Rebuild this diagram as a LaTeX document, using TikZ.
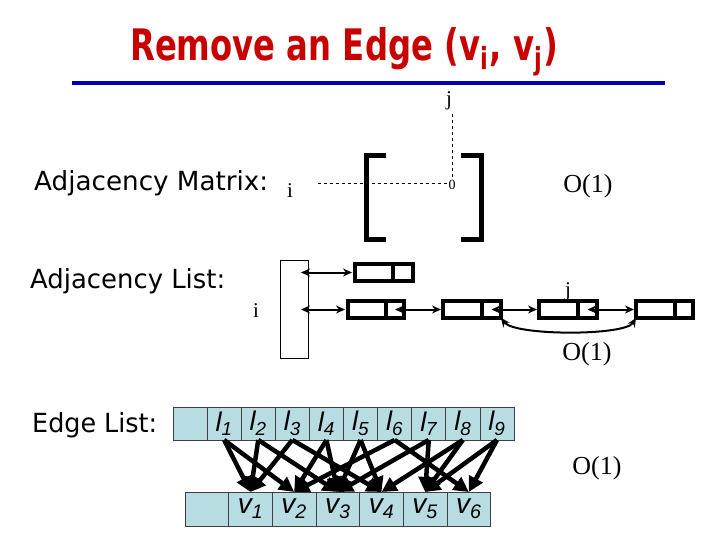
\documentclass[tikz,border=0pt]{standalone}
\usepackage{fontspec}
\setmainfont{Liberation Serif}
\newfontfamily\comic{DejaVu Sans}
\newfontfamily\arialf{Liberation Sans}
\usetikzlibrary{arrows.meta}
\definecolor{titlered}{RGB}{200,0,0}
\definecolor{lineblue}{RGB}{0,0,180}
\definecolor{cellfill}{RGB}{183,221,226}
\tikzset{
  lbl/.style={inner sep=0, anchor=base west, font=\comic},
  serif/.style={inner sep=0, font=\fontsize{21}{21}\selectfont},
  bigo/.style={inner sep=0, font=\fontsize{26}{26}\selectfont},
  brk/.style={line width=5pt, line cap=butt, line join=miter},
  lcell/.style={draw, line width=3.2pt, minimum height=17pt, inner sep=0, outer sep=0, anchor=west},
  larrow/.style={line width=2pt, {Stealth[length=9pt,width=8pt]}-{Stealth[length=9pt,width=8pt]}},
  ecell/.style={draw=black!75, fill=cellfill, line width=0.8pt, minimum width=34.1pt, minimum height=33pt, inner sep=0, outer sep=0, anchor=north west, font=\arialf\itshape\fontsize{27}{27}\selectfont},
  vcell/.style={draw=black!75, fill=cellfill, line width=0.8pt, minimum width=43.67pt, minimum height=34pt, inner sep=0, outer sep=0, anchor=north west, font=\arialf\itshape\fontsize{28}{28}\selectfont},
  earrow/.style={line width=4.5pt, -{Triangle[length=15pt,width=15pt]}}
}
\begin{document}
\begin{tikzpicture}[x=1pt,y=-1pt]
\useasboundingbox[fill=white] (0,0) rectangle (720,540);
% title
\node[inner sep=0, anchor=base west, text=titlered] (title) at (130,61)
  {\resizebox{428pt}{33pt}{\comic\bfseries Remove an Edge (v\textsubscript{i}, v\textsubscript{j})}};
\draw[lineblue, line width=3.5pt] (72,83) -- (665,83);
% left labels
\node[lbl] (am) at (34,191) {\resizebox{234pt}{20pt}{Adjacency Matrix:}};
\node[lbl] (al) at (30,288) {\resizebox{195pt}{20pt}{Adjacency List:}};
\node[lbl] (el) at (32,432) {\resizebox{125pt}{20pt}{Edge List:}};
% adjacency matrix
\node[serif, anchor=base] (jm) at (449,106) {j};
\node[serif, anchor=base] (im) at (290,197) {i};
\node[inner sep=1pt, font=\fontsize{14}{14}\selectfont] (zero) at (452,185) {0};
\coordinate (hs) at (318,183);
\draw[dashed, line width=0.7pt] (hs) -- (zero.west |- hs);
\draw[dashed, line width=0.7pt] (jm.south -| zero) ++(0,3) -- (zero.north);
\draw[brk] (386,156) -- (366,156) -- (366,239) -- (386,239);
\draw[brk] (461,156) -- (481,156) -- (481,239) -- (461,239);
\node[bigo] (o1) at (588,186) {O(1)};
% adjacency list
\node[draw, line width=1pt, minimum width=28pt, minimum height=98pt, inner sep=0, anchor=north west] (arr) at (280,260) {};
\node[serif] (il) at (256,311) {i};
\node[serif] (jl) at (568,292) {j};
\node[lcell, minimum width=38pt] (b1a) at (355,272.5) {};
\node[lcell, minimum width=20pt] (b1b) at (b1a.east) {};
\node[lcell, minimum width=38pt] (b2a) at (348,309.5) {};
\node[lcell, minimum width=18pt] (b2b) at (b2a.east) {};
\node[lcell, minimum width=39pt] (b3a) at (443,309.5) {};
\node[lcell, minimum width=19pt] (b3b) at (b3a.east) {};
\node[lcell, minimum width=39pt] (b4a) at (539,309.5) {};
\node[lcell, minimum width=19pt] (b4b) at (b4a.east) {};
\node[lcell, minimum width=39pt] (b5a) at (636,309.5) {};
\node[lcell, minimum width=18pt] (b5b) at (b5a.east) {};
\coordinate (p1) at (301,272.5);
\coordinate (p2) at (301,309.5);
\draw[larrow] (p1) -- ([xshift=-3pt]b1a.west);
\draw[larrow] (p2) -- ([xshift=-3pt]b2a.west);
\draw[larrow] (b2b.center) -- ([xshift=-2pt]b3a.west);
\draw[larrow] (b3b.center) -- ([xshift=-2pt]b4a.west);
\draw[larrow] (b4b.center) -- ([xshift=-2pt]b5a.west);
\draw[larrow] (b3b.south east) .. controls (515,336) and (625,336) .. (b5a.south west);
\node[bigo] (o2) at (587,354) {O(1)};
% edge list
\node[ecell] (e0) at (173,407) {};
\foreach \k [remember=\k as \p (initially 0)] in {1,...,9}
  \node[ecell] (e\k) at (e\p.north east) {l\textsubscript{\k}};
\node[vcell] (v0) at (185,492) {};
\foreach \k [remember=\k as \p (initially 0)] in {1,...,6}
  \node[vcell] (v\k) at (v\p.north east) {v\textsubscript{\k}};
\foreach \a/\b in {1/1,1/2,2/1,2/3,3/1,3/4,4/2,4/3,5/3,5/4,6/2,6/6,7/3,7/5,8/4,8/5,9/5,9/6}
  \draw[earrow] (e\a.south) -- (v\b.north);
\node[bigo] (o3) at (597,468) {O(1)};
\end{tikzpicture}
\end{document}
